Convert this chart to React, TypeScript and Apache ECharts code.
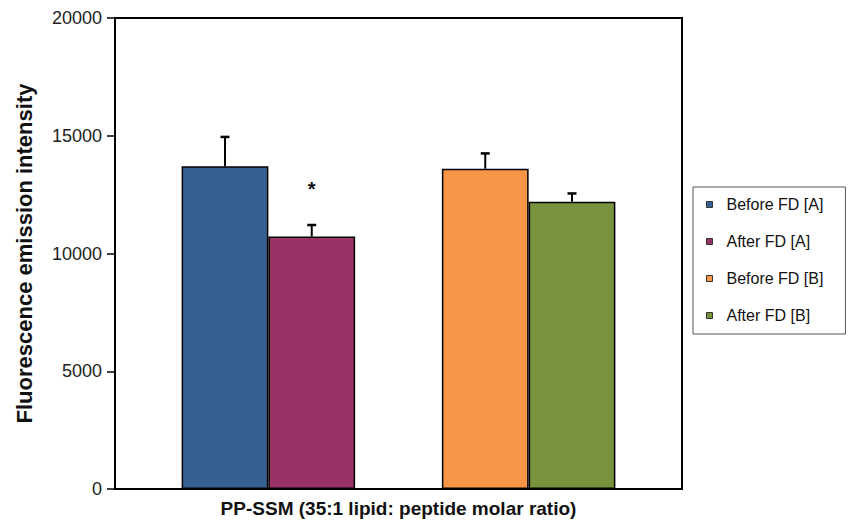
import React, { useEffect, useRef } from "react";
import * as echarts from "echarts";

const categories = ["PP-SSM (35:1 lipid: peptide molar ratio)"];
const seriesNames = ["Before FD [A]", "After FD [A]", "", "Before FD [B]", "After FD [B]"];
const seriesColors = ["#376092", "#993366", "#ffffff", "#F79646", "#77933C"];
const seriesValues: (number | null)[] = [13700, 10720, null, 13600, 12200];
const errorValues: (number | null)[] = [1250, 490, null, 650, 350];
const significance = ["", "*", "", "", ""];
const yTicks = { min: 0, max: 20000, interval: 5000 };

const CAT_GAP = 0.235;
const FONT = "Liberation Sans, Arial, sans-serif";

export default function App() {
  const ref = useRef<HTMLDivElement>(null);
  useEffect(() => {
    if (!ref.current) return;
    const chart = echarts.init(ref.current, null, { renderer: "svg" });
    const nSeries = seriesNames.length;
    const barSeries = seriesNames.map((name, i) => ({
      type: "bar",
      name: name || "gap",
      data: [seriesValues[i] === null ? "-" : seriesValues[i]],
      barGap: "0%",
      barCategoryGap: CAT_GAP * 100 + "%",
      itemStyle: { color: seriesColors[i], borderColor: "#000", borderWidth: 1.5 },
      label: significance[i]
        ? {
            show: true,
            position: "top",
            distance: 38,
            formatter: significance[i],
            fontSize: 20,
            fontWeight: "bold",
            color: "#111",
            fontFamily: FONT,
          }
        : { show: false },
      z: 2,
    }));
    const errData = seriesValues
      .map((v, i) => (v === null || errorValues[i] === null ? null : [0, v, errorValues[i], i]))
      .filter((d) => d !== null);
    const option: any = {
      animation: false,
      backgroundColor: "#fff",
      textStyle: { fontFamily: FONT },
      grid: {
        left: 115,
        top: 18,
        right: 169,
        bottom: 35,
        show: true,
        borderColor: "#000",
        borderWidth: 2,
        containLabel: false,
      },
      legend: {
        orient: "vertical",
        left: 693,
        top: 187,
        data: seriesNames.filter((n) => n),
        icon: "rect",
        itemWidth: 6,
        itemHeight: 6,
        itemGap: 20,
        padding: [9, 22, 10, 13],
        borderColor: "#555",
        borderWidth: 1,
        textStyle: {
          fontSize: 16,
          color: "#111",
          lineHeight: 17,
          padding: [0, 0, 0, 9],
          fontFamily: FONT,
        },
        itemStyle: { borderColor: "#333", borderWidth: 1 },
      },
      xAxis: {
        type: "category",
        data: categories,
        axisLine: { show: true, lineStyle: { color: "#000", width: 2 } },
        axisTick: { show: false },
        axisLabel: {
          fontSize: 19,
          fontWeight: "bold",
          color: "#111",
          margin: 10,
          fontFamily: FONT,
        },
      },
      yAxis: {
        type: "value",
        min: yTicks.min,
        max: yTicks.max,
        interval: yTicks.interval,
        splitLine: { show: false },
        axisLine: { show: true, lineStyle: { color: "#000", width: 2 } },
        axisTick: { show: true, length: 8, lineStyle: { color: "#000", width: 1.5 } },
        axisLabel: {
          fontSize: 18,
          color: "#222",
          margin: 13,
          fontFamily: FONT,
          formatter: (v: number) => String(v),
        },
        name: "Fluorescence emission intensity",
        nameLocation: "middle",
        nameGap: 80,
        nameRotate: 90,
        nameTextStyle: {
          fontSize: 22,
          fontWeight: "bold",
          color: "#111",
          fontFamily: FONT,
        },
      },
      series: [
        ...barSeries,
        {
          type: "custom",
          name: "errors",
          data: errData,
          z: 3,
          renderItem: (params: any, api: any) => {
            const idx = api.value(3);
            const v = api.value(1);
            const e = api.value(2);
            const base = api.coord([0, v]);
            const top = api.coord([0, v + e]);
            const band = api.size([1, 0])[0];
            const w = (band * (1 - CAT_GAP)) / nSeries;
            const cx = base[0] + (idx - (nSeries - 1) / 2) * w;
            return {
              type: "group",
              children: [
                {
                  type: "line",
                  shape: { x1: cx, y1: base[1], x2: cx, y2: top[1] },
                  style: { stroke: "#000", lineWidth: 2 },
                },
                {
                  type: "line",
                  shape: { x1: cx - 4.5, y1: top[1], x2: cx + 4.5, y2: top[1] },
                  style: { stroke: "#000", lineWidth: 2.5 },
                },
              ],
            };
          },
        },
      ],
    };
    chart.setOption(option);
    return () => chart.dispose();
  }, []);
  return (
    <div
      ref={ref}
      style={{ position: "fixed", left: 0, top: 0, width: 851, height: 524, background: "#fff" }}
    />
  );
}
